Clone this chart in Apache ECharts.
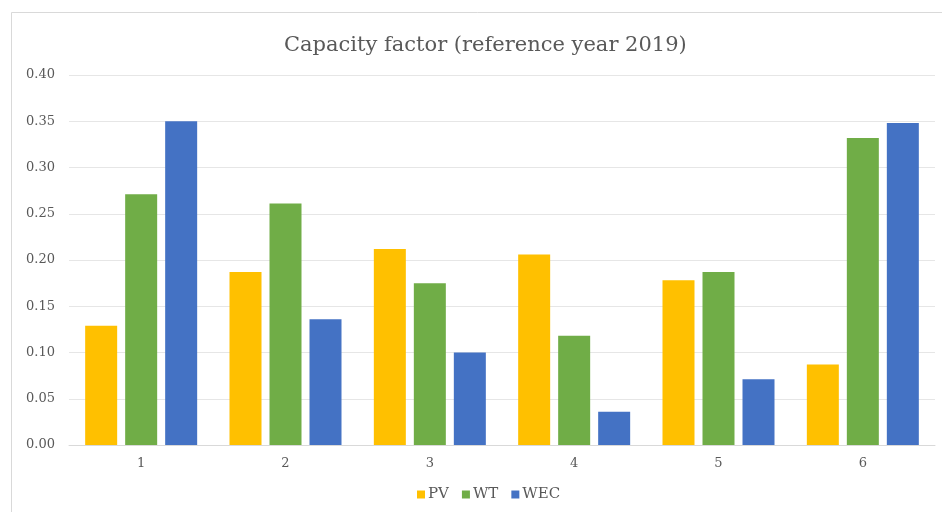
<!DOCTYPE html>
<html>
<head>
<meta charset="utf-8">
<script src="https://cdn.jsdelivr.net/npm/echarts@6/dist/echarts.min.js"></script>
<style>
  html, body { margin: 0; padding: 0; background: #ffffff; }
  #chart { width: 942px; height: 512px; }
</style>
</head>
<body>
<div id="chart"></div>
<script>
// Capacity factor per site, reference year 2019
const categories = ['1', '2', '3', '4', '5', '6'];
const pvValues  = [0.129, 0.187, 0.212, 0.206, 0.178, 0.087];
const wtValues  = [0.271, 0.261, 0.175, 0.118, 0.187, 0.332];
const wecValues = [0.350, 0.136, 0.100, 0.036, 0.071, 0.348];
const yTicks = [0, 0.05, 0.10, 0.15, 0.20, 0.25, 0.30, 0.35, 0.40];

const serif = '"DejaVu Serif", "Liberation Serif", serif';
const textGrey = '#595959';

const chart = echarts.init(document.getElementById('chart'), null, { renderer: 'canvas' });

function barSeries(name, data, color) {
  return {
    name: name,
    type: 'bar',
    data: data,
    barWidth: 32,
    barGap: '25%',
    itemStyle: { color: color },
    animation: false
  };
}

chart.setOption({
  backgroundColor: '#ffffff',
  animation: false,
  graphic: [{
    type: 'rect',
    shape: { x: 11.5, y: 12.5, width: 960, height: 520 },
    style: { fill: 'none', stroke: '#d9d9d9', lineWidth: 1 },
    silent: true,
    z: -1
  }],
  title: {
    text: 'Capacity factor (reference year 2019)',
    left: 279,
    top: 30,
    textStyle: { fontFamily: serif, fontSize: 21, fontWeight: 'normal', color: textGrey }
  },
  legend: {
    data: ['PV', 'WT', 'WEC'],
    bottom: 5,
    left: 412,
    itemWidth: 8,
    itemHeight: 8,
    itemGap: 13,
    icon: 'rect',
    textStyle: { fontFamily: serif, fontSize: 15, color: textGrey, padding: [0, 0, 0, -2] }
  },
  grid: { left: 69, right: 7, top: 75, bottom: 67, containLabel: false },
  xAxis: {
    type: 'category',
    data: categories,
    axisLine: { show: true, lineStyle: { color: '#d9d9d9' } },
    axisTick: { show: false },
    axisLabel: { fontFamily: serif, fontSize: 13, color: textGrey, margin: 12 }
  },
  yAxis: {
    type: 'value',
    min: yTicks[0],
    max: yTicks[yTicks.length - 1],
    interval: 0.05,
    axisLine: { show: false },
    axisTick: { show: false },
    splitLine: { lineStyle: { color: '#e6e6e6' } },
    axisLabel: {
      fontFamily: serif, fontSize: 13, color: textGrey, margin: 14,
      formatter: v => v.toFixed(2)
    }
  },
  series: [
    barSeries('PV', pvValues, '#ffc000'),
    barSeries('WT', wtValues, '#70ad47'),
    barSeries('WEC', wecValues, '#4472c4')
  ]
});
</script>
</body>
</html>
